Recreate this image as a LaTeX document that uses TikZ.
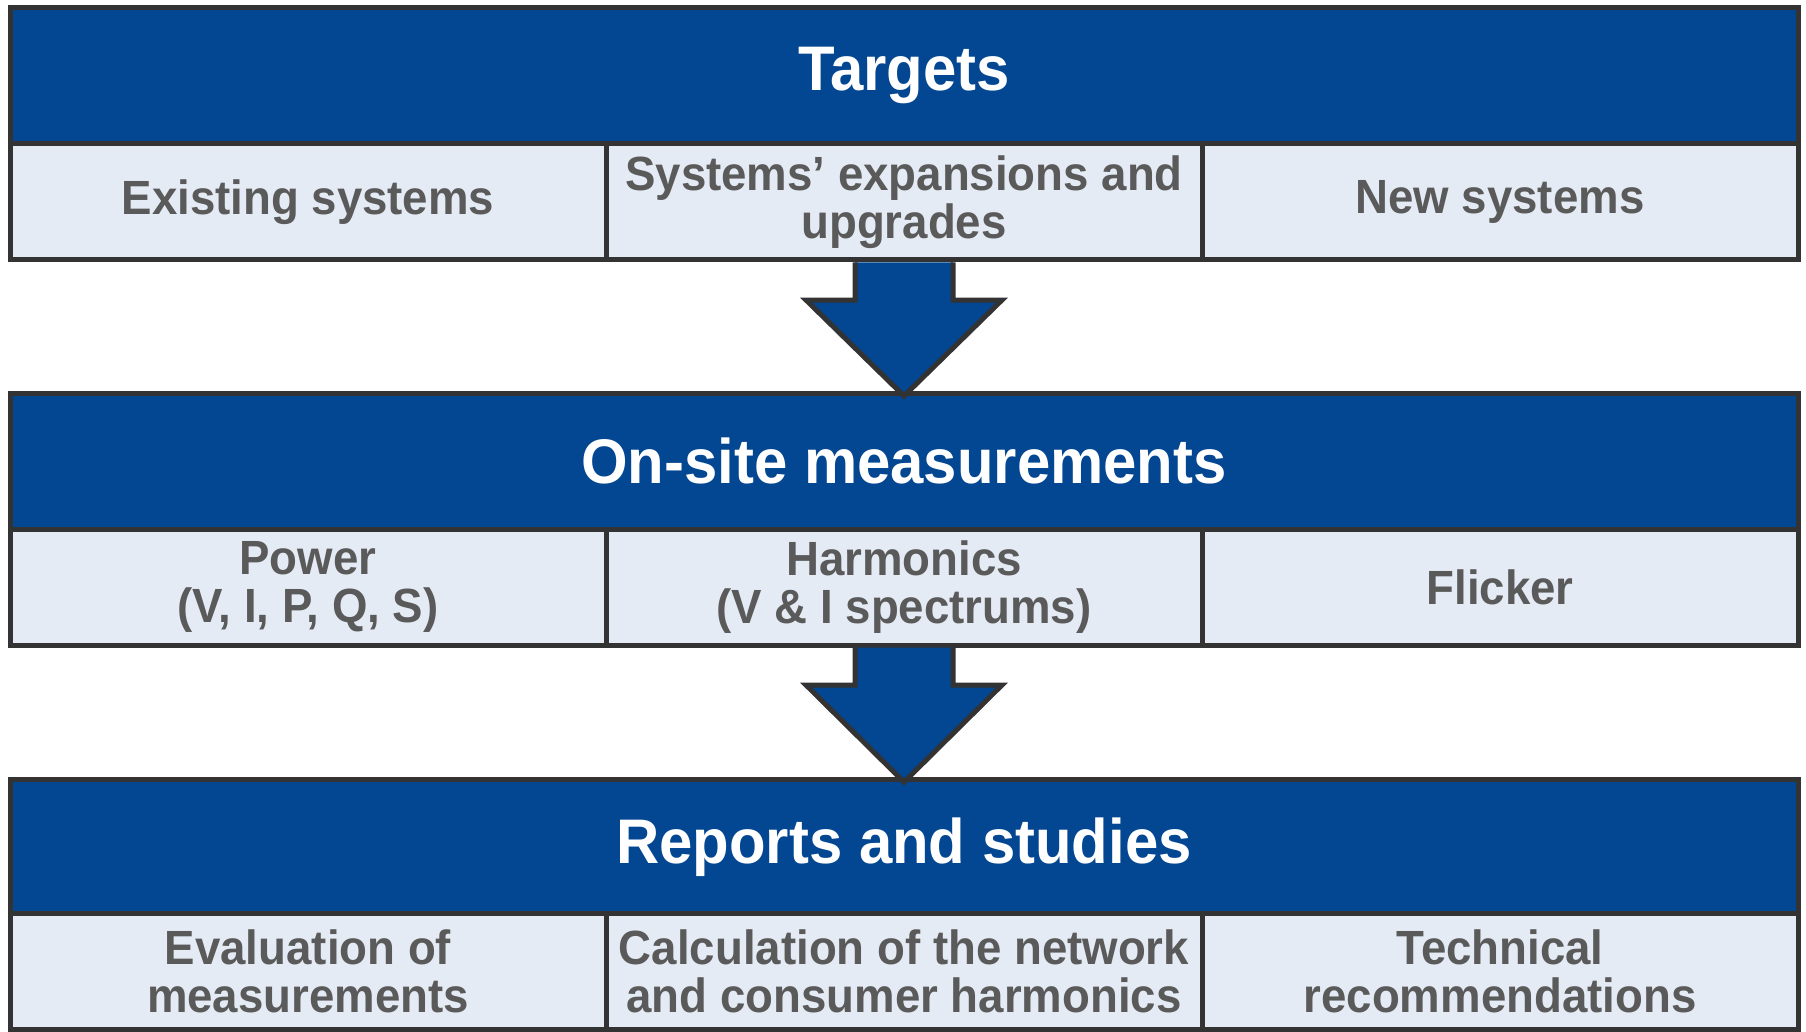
\documentclass[tikz,border=0pt]{standalone}
\usepackage{fontspec}
\setmainfont[FakeStretch=0.95]{Liberation Sans}
\usetikzlibrary{calc}
\definecolor{hdrblue}{RGB}{3,70,145}
\definecolor{cellfill}{RGB}{228,235,244}
\definecolor{edgegray}{RGB}{51,51,51}
\definecolor{txtgray}{RGB}{90,90,90}
\begin{document}
\begin{tikzpicture}[x=1pt,y=-1pt,
  header/.style={draw=edgegray, line width=5pt, fill=hdrblue, minimum width=1788pt, minimum height=136pt,
    inner sep=0pt, outer sep=0pt, anchor=north west, text=white, font=\bfseries\fontsize{63}{68}\selectfont},
  cell/.style={draw=edgegray, line width=5pt, fill=cellfill, minimum width=596pt, minimum height=116pt,
    inner sep=0pt, outer sep=0pt, anchor=north west, text=txtgray, align=center,
    font=\bfseries\fontsize{48}{48}\selectfont},
  flowarrow/.style={draw=edgegray, line width=5pt, fill=hdrblue, line join=miter}]
\useasboundingbox (0,0) rectangle (1806,1032);

% Row 1
\node[header] (h1) at (10,8) {Targets};
\node[cell] (r1a) at (10,144) {Existing systems};
\node[cell] (r1b) at (606,144) {Systems’ expansions and\\upgrades};
\node[cell] (r1c) at (1202,144) {New systems};

% Row 2
\node[header] (h2) at (10,393) {On-site measurements};
\node[cell] (r2a) at (10,529) {Power\\(V, I, P, Q, S)};
\node[cell] (r2b) at (606,529) {Harmonics\\(V \& I spectrums)};
\node[cell] (r2c) at (1202,529) {Flicker};

% Row 3
\node[header] (h3) at (10,779) {Reports and studies};
\node[cell] (r3a) at (10,913) {Evaluation of\\measurements};
\node[cell] (r3b) at (606,913) {Calculation of the network\\and consumer harmonics};
\node[cell] (r3c) at (1202,913) {Technical\\recommendations};

% Arrows
\draw[flowarrow] ($(r1b.south)+(-49,2.5)$) -- ($(r1b.south)+(-49,40)$) -- ($(r1b.south)+(-98,40)$)
  -- ($(h2.north)+(0,3)$) -- ($(r1b.south)+(98,40)$) -- ($(r1b.south)+(49,40)$) -- ($(r1b.south)+(49,2.5)$);
\draw[flowarrow] ($(r2b.south)+(-49,2.5)$) -- ($(r2b.south)+(-49,40)$) -- ($(r2b.south)+(-98,40)$)
  -- ($(h3.north)+(0,3)$) -- ($(r2b.south)+(98,40)$) -- ($(r2b.south)+(49,40)$) -- ($(r2b.south)+(49,2.5)$);
\end{tikzpicture}
\end{document}
